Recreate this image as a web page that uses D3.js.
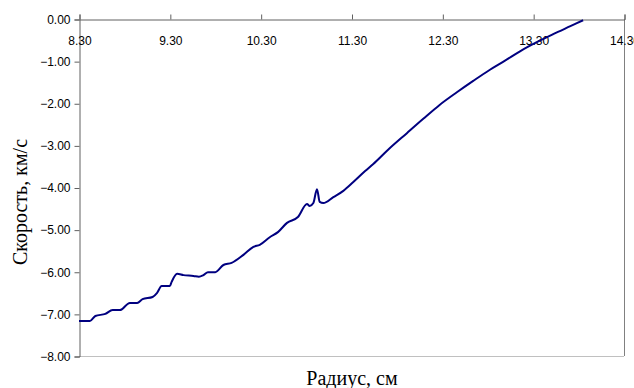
<!DOCTYPE html>
<html>
<head>
<meta charset="utf-8">
<script src="https://cdn.jsdelivr.net/npm/d3@7"></script>
<style>
html,body{margin:0;padding:0;background:#fff;}
svg{display:block;}
</style>
</head>
<body>
<svg id="chart" width="634" height="388"></svg>
<script>
// Radius (cm)
const radius = [8.30, 8.42, 8.48, 8.59, 8.67, 8.75, 8.86, 8.94, 9.00, 9.11, 9.16, 9.21, 9.30, 9.32, 9.38, 9.45,
  9.56, 9.62, 9.67, 9.72, 9.80, 9.89, 9.98, 10.11, 10.22, 10.29, 10.40, 10.49, 10.59, 10.71, 10.81, 10.84,
  10.88, 10.92, 10.95, 10.99, 11.10, 11.21, 11.32, 11.45, 11.54, 11.70, 11.91, 12.09, 12.27, 12.46, 12.64,
  12.82, 12.99, 13.16, 13.34, 13.52, 13.71, 13.85];
// Velocity (km/s)
const velocity = [-7.17, -7.17, -7.05, -7.00, -6.91, -6.91, -6.74, -6.74, -6.65, -6.60, -6.50, -6.34, -6.34, -6.24, -6.05, -6.08,
  -6.10, -6.12, -6.08, -6.01, -6.01, -5.84, -5.79, -5.60, -5.41, -5.36, -5.18, -5.06, -4.84, -4.70, -4.39, -4.44,
  -4.37, -4.04, -4.34, -4.37, -4.23, -4.08, -3.87, -3.61, -3.44, -3.11, -2.71, -2.37, -2.04, -1.74, -1.47,
  -1.21, -0.99, -0.76, -0.55, -0.36, -0.17, -0.03];
const xTicks = [8.3, 9.3, 10.3, 11.3, 12.3, 13.3, 14.3];
const yTicks = [0, -1, -2, -3, -4, -5, -6, -7, -8];
const xTitle = "Радиус, см";
const yTitle = "Скорость, км/с";

(function () {
const svg = d3.select("#chart");
const mLeft = 79, mRight = 624, mTop = 19, mBottom = 356;
const x = d3.scaleLinear().domain([8.3, 14.3]).range([mLeft, mRight]);
const y = d3.scaleLinear().domain([-8, 0]).range([mBottom, mTop]);

// plot border (right + bottom)
svg.append("line").attr("x1", mRight + 0.5).attr("x2", mRight + 0.5).attr("y1", mTop).attr("y2", mBottom)
  .attr("stroke", "#808080").attr("stroke-width", 1);
svg.append("line").attr("x1", mLeft).attr("x2", mRight).attr("y1", mBottom + 0.5).attr("y2", mBottom + 0.5)
  .attr("stroke", "#c0c0c0").attr("stroke-width", 1);

// Y axis
const yAxis = d3.axisLeft(y).tickValues(yTicks).tickFormat(d3.format(".2f")).tickSizeOuter(0).tickSize(5).tickPadding(4);
const gy = svg.append("g").attr("transform", `translate(${mLeft + 0.5},0.5)`).call(yAxis);
gy.selectAll("text").attr("font-family", "Liberation Sans, Arial, sans-serif").attr("font-size", 12).attr("fill", "#000");
gy.selectAll("line,path").attr("stroke", "#606060");

// X axis on top (at y=0), ticks pointing up, labels below
const xAxis = d3.axisTop(x).tickValues(xTicks).tickFormat(d3.format(".2f")).tickSizeOuter(0).tickSize(5);
const gx = svg.append("g").attr("transform", `translate(0.5,${mTop + 0.5})`).call(xAxis);
gx.selectAll("line,path").attr("stroke", "#606060");
gx.selectAll("text").attr("y", 25).attr("dy", 0)
  .attr("font-family", "Liberation Sans, Arial, sans-serif").attr("font-size", 12).attr("fill", "#000");

// line
const line = d3.line().x((d, i) => x(radius[i])).y(d => y(d)).curve(d3.curveMonotoneX);
svg.append("path").datum(velocity).attr("d", line)
  .attr("fill", "none").attr("stroke", "#000080").attr("stroke-width", 2).attr("stroke-linejoin", "round");

// titles
svg.append("text").attr("x", 352).attr("y", 385).attr("text-anchor", "middle")
  .attr("font-family", "Liberation Serif, Times New Roman, serif").attr("font-size", 20).attr("fill", "#000")
  .text(xTitle);
svg.append("text").attr("transform", "translate(27,202) rotate(-90)").attr("text-anchor", "middle")
  .attr("font-family", "Liberation Serif, Times New Roman, serif").attr("font-size", 20).attr("fill", "#000")
  .text(yTitle);
})();
</script>
</body>
</html>
